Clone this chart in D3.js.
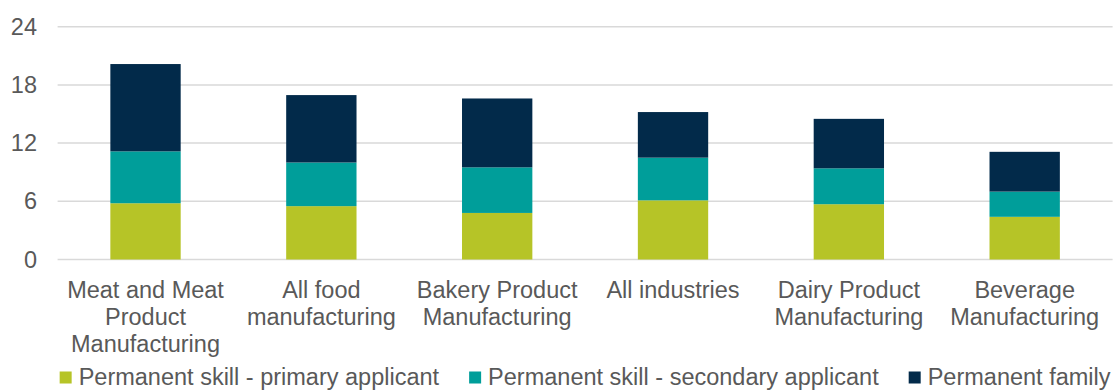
<!DOCTYPE html>
<html>
<head>
<meta charset="utf-8">
<script src="https://cdn.jsdelivr.net/npm/d3@7/dist/d3.min.js"></script>
<style>
  html, body { margin: 0; padding: 0; background: #ffffff; }
  svg { display: block; font-family: "Liberation Sans", Arial, sans-serif; }
</style>
</head>
<body>
<svg id="chart" width="1119" height="390"></svg>
<script>
// Industry groups along the horizontal axis
const categories = [
  "Meat and Meat Product Manufacturing",
  "All food manufacturing",
  "Bakery Product Manufacturing",
  "All industries",
  "Dairy Product Manufacturing",
  "Beverage Manufacturing"
];

// Stacked series, bottom to top
const seriesNames = [
  "Permanent skill - primary applicant",
  "Permanent skill - secondary applicant",
  "Permanent family"
];
const primaryApplicant   = [5.8, 5.5, 4.8, 6.1, 5.7, 4.4];
const secondaryApplicant = [5.35, 4.5, 4.7, 4.4, 3.7, 2.6];
const permanentFamily    = [9.0, 6.95, 7.1, 4.7, 5.1, 4.1];

const yTicks = [0, 6, 12, 18, 24];

const colors = ["#b6c427", "#009e9a", "#022a4a"];
const textColor = "#595959";
const fontSize = 23.5;

const svg = d3.select("#chart");

const x = d3.scaleBand()
  .domain(categories)
  .range([57.6, 1112.6])
  .paddingInner(0.6)
  .paddingOuter(0.3);

const y = d3.scaleLinear()
  .domain([0, 24])
  .range([259.5, 26.7]);

// Gridlines
svg.append("g")
  .selectAll("line")
  .data(yTicks)
  .join("line")
  .attr("x1", 57.6)
  .attr("x2", 1112.6)
  .attr("y1", d => y(d))
  .attr("y2", d => y(d))
  .attr("stroke", "#d9d9d9")
  .attr("stroke-width", 1.5);

// Y axis labels
const yAxis = d3.axisLeft(y).tickValues(yTicks).tickSize(0).tickPadding(0);
const yAxisG = svg.append("g")
  .attr("transform", "translate(37,0)")
  .call(yAxis);
yAxisG.select(".domain").remove();
yAxisG.selectAll("text")
  .attr("fill", textColor)
  .style("font-size", fontSize + "px")
  .style("font-family", "'Liberation Sans', Arial, sans-serif");

// Stacked bars
const rows = categories.map((c, i) => ({
  category: c,
  s0: primaryApplicant[i],
  s1: secondaryApplicant[i],
  s2: permanentFamily[i]
}));
const stacked = d3.stack().keys(["s0", "s1", "s2"])(rows);

svg.append("g")
  .selectAll("g")
  .data(stacked)
  .join("g")
  .attr("fill", (d, i) => colors[i])
  .selectAll("rect")
  .data(d => d)
  .join("rect")
  .attr("x", d => x(d.data.category))
  .attr("width", x.bandwidth())
  .attr("y", d => y(d[1]))
  .attr("height", d => y(d[0]) - y(d[1]));

// Category labels, wrapped to the band step
const xAxisG = svg.append("g")
  .attr("transform", "translate(0,297.5)");
const lineHeight = 27;
const maxWidth = x.step();

categories.forEach(cat => {
  const cxLabel = x(cat) + x.bandwidth() / 2;
  const t = xAxisG.append("text")
    .attr("x", cxLabel)
    .attr("y", 0)
    .attr("text-anchor", "middle")
    .attr("fill", textColor)
    .style("font-size", fontSize + "px");
  const words = cat.split(" ");
  let line = [];
  let tspan = t.append("tspan").attr("x", cxLabel).attr("dy", 0);
  words.forEach(w => {
    line.push(w);
    tspan.text(line.join(" "));
    if (tspan.node().getComputedTextLength() > maxWidth && line.length > 1) {
      line.pop();
      tspan.text(line.join(" "));
      line = [w];
      tspan = t.append("tspan")
        .attr("x", cxLabel)
        .attr("dy", lineHeight)
        .text(w);
    }
  });
});

// Legend, centred under the plot
const legend = svg.append("g").attr("transform", "translate(0,384.5)");
const markerSize = 12;
const markerGap = 7;
const itemGap = 30;
const items = seriesNames.map((name, i) => {
  const g = legend.append("g");
  g.append("rect")
    .attr("width", markerSize)
    .attr("height", markerSize)
    .attr("y", -13)
    .attr("fill", colors[i]);
  const txt = g.append("text")
    .attr("x", markerSize + markerGap)
    .attr("y", 0)
    .attr("fill", textColor)
    .style("font-size", fontSize + "px")
    .text(name);
  return { g, w: markerSize + markerGap + txt.node().getComputedTextLength() };
});
const totalW = d3.sum(items, d => d.w) + itemGap * (items.length - 1);
let cx = (57.6 + 1112.6) / 2 - totalW / 2;
items.forEach(it => {
  it.g.attr("transform", `translate(${cx},0)`);
  cx += it.w + itemGap;
});
</script>
</body>
</html>
